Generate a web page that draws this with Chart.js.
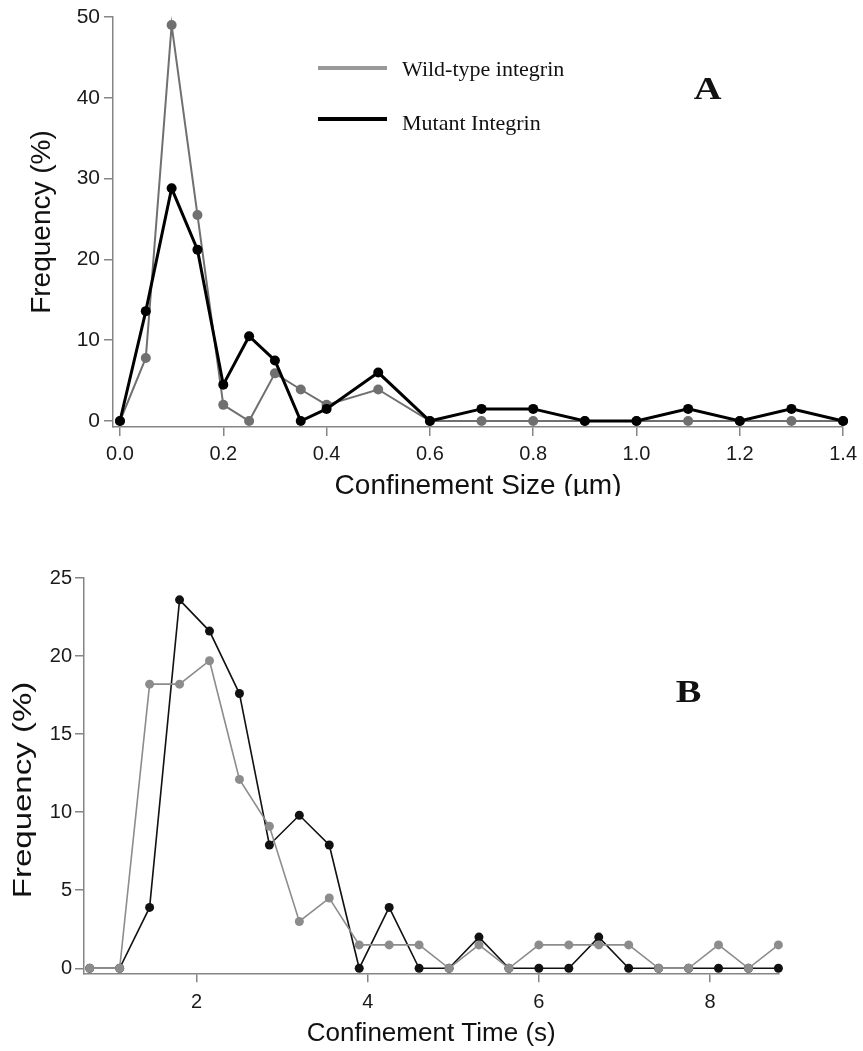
<!DOCTYPE html>
<html lang="en">
<head>
  <meta charset="UTF-8" />
  <title>Confinement Size and Time</title>
  <script src="https://cdn.jsdelivr.net/npm/chart.js"></script>
  <style>
    body { margin: 0; background: #fff; }
    #page { position: relative; width: 863px; height: 1051px; overflow: hidden; }
    .panel { position: absolute; left: 0; width: 863px; }
    #panelA { top: 0; height: 496px; }
    #panelB { top: 496px; height: 555px; }
    .key { position: absolute; font-family: "Liberation Serif", "Times New Roman", serif; font-size: 22px; color: #111; line-height: 1; }
    .swatch { position: absolute; height: 4px; width: 69px; }
    .letter { position: absolute; font-family: "Liberation Serif", "Times New Roman", serif; font-weight: bold; font-size: 32px; color: #111; line-height: 1; transform: scaleX(1.2); }
  </style>
</head>
<body>
  <div id="page">
    <div class="panel" id="panelA"><canvas id="chartA"></canvas></div>
    <div class="panel" id="panelB"><canvas id="chartB"></canvas></div>

    <div class="swatch" style="left:318px; top:66px; background:#999;"></div>
    <div class="key" style="left:402px; top:58px;">Wild-type integrin</div>
    <div class="swatch" style="left:318px; top:117px; background:#000;"></div>
    <div class="key" style="left:402px; top:112px;">Mutant Integrin</div>
    <div class="letter" style="left:696px; top:72px;">A</div>
    <div class="letter" style="left:678px; top:675px;">B</div>
  </div>

  <script>
    // panel A: confinement size distribution
    const sizeA = [0, 0.05, 0.1, 0.15, 0.2, 0.25, 0.3, 0.35, 0.4, 0.5, 0.6, 0.7, 0.8, 0.9, 1.0, 1.1, 1.2, 1.3, 1.4];
    const wildA = [0, 7.8, 49, 25.5, 2.0, 0, 5.9, 3.9, 2.0, 3.9, 0, 0, 0, 0, 0, 0, 0, 0, 0];
    const mutantA = [0, 13.6, 28.8, 21.2, 4.5, 10.5, 7.5, 0, 1.5, 6.0, 0, 1.5, 1.5, 0, 0, 1.5, 0, 1.5, 0];
    const xTicksA = [0, 0.2, 0.4, 0.6, 0.8, 1.0, 1.2, 1.4];
    const yTicksA = [0, 10, 20, 30, 40, 50];

    // panel B: confinement time distribution
    const timeB = [0.75, 1.10, 1.45, 1.80, 2.15, 2.50, 2.85, 3.20, 3.55, 3.90, 4.25, 4.60,
                   4.95, 5.30, 5.65, 6.00, 6.35, 6.70, 7.05, 7.40, 7.75, 8.10, 8.45, 8.80];
    const wildB = [0, 0, 18.2, 18.2, 19.7, 12.1, 9.1, 3.0, 4.5, 1.5, 1.5, 1.5,
                   0, 1.5, 0, 1.5, 1.5, 1.5, 1.5, 0, 0, 1.5, 0, 1.5];
    const mutantB = [0, 0, 3.9, 23.6, 21.6, 17.6, 7.9, 9.8, 7.9, 0, 3.9, 0,
                     0, 2.0, 0, 0, 0, 2.0, 0, 0, 0, 0, 0, 0];
    const xTicksB = [2, 4, 6, 8];
    const yTicksB = [0, 5, 10, 15, 20, 25];

    const sans = '"Liberation Sans", Arial, sans-serif';
    const axisGray = '#858585';

    function pts(xs, ys) {
      return xs.map((x, i) => ({ x: x, y: ys[i] }));
    }

    function line(label, data, color, width, radius) {
      return {
        label: label,
        data: data,
        borderColor: color,
        backgroundColor: color,
        borderWidth: width,
        pointRadius: radius,
        pointBorderWidth: 0,
        pointBackgroundColor: color,
        tension: 0,
        clip: false
      };
    }

    function axis(opts) {
      return {
        type: 'linear',
        min: opts.min,
        max: opts.max,
        afterBuildTicks: s => { s.ticks = opts.ticks.map(v => ({ value: v })); },
        afterFit: s => { if (opts.width) s.width = opts.width; if (opts.height) s.height = opts.height; },
        grid: { display: true, drawOnChartArea: false, drawTicks: true, tickLength: 9, color: axisGray, lineWidth: 1.5 },
        border: { display: true, color: axisGray, width: 1.5 },
        ticks: {
          color: '#1a1a1a',
          font: { family: sans, size: opts.tickSize },
          padding: opts.tickPad,
          maxRotation: 0,
          autoSkip: false,
          callback: opts.fmt
        },
        title: opts.title
      };
    }

    Chart.defaults.animation = false;

    new Chart(document.getElementById('chartA'), {
      type: 'line',
      data: {
        datasets: [
          line('Mutant Integrin', pts(sizeA, mutantA), '#000000', 3, 5),
          line('Wild-type integrin', pts(sizeA, wildA), '#707070', 2, 5)
        ]
      },
      options: {
        responsive: true,
        maintainAspectRatio: false,
        devicePixelRatio: 1,
        layout: { padding: { top: 17, right: 19, left: 0, bottom: 0 } },
        plugins: { legend: { display: false }, tooltip: { enabled: false } },
        scales: {
          x: axis({
            min: -0.0135, max: 1.4, ticks: xTicksA, height: 69, tickSize: 20, tickPad: 6,
            fmt: v => v.toFixed(1),
            title: { display: true, text: 'Confinement Size (µm)', color: '#111',
                     font: { family: sans, size: 28 }, padding: { top: 0, bottom: -7 } }
          }),
          y: axis({
            min: -0.74, max: 50, ticks: yTicksA, width: 113, tickSize: 21, tickPad: 4,
            fmt: v => String(v),
            title: { display: true, text: 'Frequency (%)', color: '#111',
                     font: { family: sans, size: 28 }, padding: { top: 25, bottom: 0 } }
          })
        }
      }
    });

    // the time panel's y title is drawn a little stretched along its length
    const stretchedYTitle = {
      id: 'stretchedYTitle',
      afterDraw(chart) {
        const ctx = chart.ctx;
        const area = chart.chartArea;
        ctx.save();
        ctx.translate(24, area.top + 212);
        ctx.rotate(-Math.PI / 2);
        ctx.scale(1.27, 1);
        ctx.font = '26px ' + sans;
        ctx.fillStyle = '#111';
        ctx.textAlign = 'center';
        ctx.textBaseline = 'middle';
        ctx.fillText('Frequency (%)', 0, 0);
        ctx.restore();
      }
    };

    new Chart(document.getElementById('chartB'), {
      type: 'line',
      data: {
        datasets: [
          line('Wild-type integrin', pts(timeB, wildB), '#8c8c8c', 1.6, 4.5),
          line('Mutant Integrin', pts(timeB, mutantB), '#111111', 1.6, 4.5)
        ]
      },
      options: {
        responsive: true,
        maintainAspectRatio: false,
        devicePixelRatio: 1,
        layout: { padding: { top: 82, right: 84.6, left: 0, bottom: 0 } },
        plugins: { legend: { display: false }, tooltip: { enabled: false } },
        scales: {
          x: axis({
            min: 0.683, max: 8.8, ticks: xTicksB, height: 77.7, tickSize: 20, tickPad: 8,
            fmt: v => String(v),
            title: { display: true, text: 'Confinement Time (s)', color: '#111',
                     font: { family: sans, size: 26 }, padding: { top: 0, bottom: 2 } }
          }),
          y: axis({
            min: -0.32, max: 25, ticks: yTicksB, width: 84, tickSize: 20, tickPad: 3,
            fmt: v => String(v),
            title: { display: false }
          })
        }
      },
      plugins: [stretchedYTitle]
    });
  </script>
</body>
</html>
